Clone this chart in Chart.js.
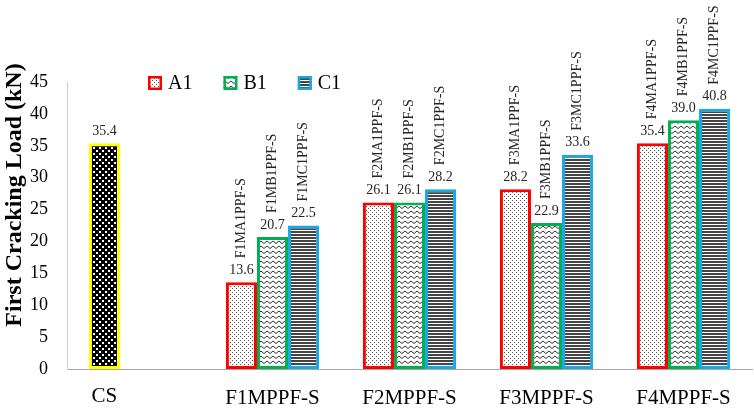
<!DOCTYPE html>
<html>
<head>
<meta charset="utf-8">
<script src="https://cdn.jsdelivr.net/npm/chart.js@4"></script>
<style>
  html, body { margin: 0; padding: 0; background: #fff; }
  #wrap { width: 754px; height: 410px; }
</style>
</head>
<body>
<div id="wrap"><canvas id="chart-crack"></canvas></div>
<script>
const categories = ['CS', 'F1MPPF-S', 'F2MPPF-S', 'F3MPPF-S', 'F4MPPF-S'];
const seriesNames = ['A1', 'B1', 'C1'];
const a1Values = [35.4, 13.6, 26.1, 28.2, 35.4];
const b1Values = [null, 20.7, 26.1, 22.9, 39.0];
const c1Values = [null, 22.5, 28.2, 33.6, 40.8];
const a1Names = ['', 'F1MA1PPF-S', 'F2MA1PPF-S', 'F3MA1PPF-S', 'F4MA1PPF-S'];
const b1Names = ['', 'F1MB1PPF-S', 'F2MB1PPF-S', 'F3MB1PPF-S', 'F4MB1PPF-S'];
const c1Names = ['', 'F1MC1PPF-S', 'F2MC1PPF-S', 'F3MC1PPF-S', 'F4MC1PPF-S'];
const yMin = 0, yMax = 45, yStep = 5;
const yTitle = 'First Cracking Load (kN)';

const FONT = "'Liberation Serif', 'Times New Roman', serif";
const RED = '#ff0000', GREEN = '#00b050', BLUE = '#1aa7e6', YELLOW = '#ffff00';

// ── fill patterns (like the Excel pattern fills) ──────────
function tile(w, h, draw) {
  const c = document.createElement('canvas');
  c.width = w; c.height = h;
  const g = c.getContext('2d');
  draw(g);
  return document.createElement('canvas').getContext('2d').createPattern(c, 'repeat');
}

const dotsFill = tile(4, 4, g => {
  g.fillStyle = '#fff'; g.fillRect(0, 0, 4, 4);
  g.fillStyle = '#555'; g.fillRect(0, 0, 1, 1); g.fillRect(2, 2, 1, 1);
});
const zigzagFill = tile(6, 5, g => {
  g.fillStyle = '#fff'; g.fillRect(0, 0, 6, 5);
  g.strokeStyle = '#333'; g.lineWidth = 1;
  g.beginPath(); g.moveTo(0, 3.5); g.lineTo(3, 1); g.lineTo(6, 3.5); g.stroke();
});
const stripeFill = tile(4, 3, g => {
  g.fillStyle = '#fff'; g.fillRect(0, 0, 4, 3);
  g.fillStyle = '#444'; g.fillRect(0, 0, 4, 2);
});
const csFill = tile(6, 6, g => {
  g.fillStyle = '#000'; g.fillRect(0, 0, 6, 6);
  g.fillStyle = '#fff'; g.fillRect(0, 0, 2, 2); g.fillRect(3, 3, 2, 2);
});

const seriesFill = [dotsFill, zigzagFill, stripeFill];
const seriesBorder = [RED, GREEN, BLUE];
const seriesLabels = [a1Names, b1Names, c1Names];

// ── value + rotated specimen labels ───────────────────────
const barLabels = {
  id: 'barLabels',
  afterDatasetsDraw(chart) {
    const c = chart.ctx;
    chart.data.datasets.forEach((ds, di) => {
      const meta = chart.getDatasetMeta(di);
      meta.data.forEach((bar, i) => {
        const v = ds.data[i];
        if (v === null || v === undefined) return;
        c.save();
        c.fillStyle = '#262626';
        c.font = '14px ' + FONT;
        c.textAlign = 'center';
        c.textBaseline = 'bottom';
        c.fillText(v.toFixed(1), bar.x, bar.y - 5);
        const name = seriesLabels[di][i];
        if (name) {
          c.translate(bar.x, bar.y - 24);
          c.rotate(-Math.PI / 2);
          c.textAlign = 'left';
          c.textBaseline = 'middle';
          c.fillText(name, 0, 0);
        }
        c.restore();
      });
    });
  }
};

// CS has a single bar, its label sits under that bar;
// the y title is centred on the whole figure, not on the plot
const extraText = {
  id: 'extraText',
  afterDraw(chart) {
    const xs = chart.scales.x;
    const bar = chart.getDatasetMeta(0).data[0];
    const c = chart.ctx;
    c.save();
    c.fillStyle = '#000';
    c.font = '21px ' + FONT;
    c.textAlign = 'center';
    c.textBaseline = 'top';
    c.fillText(categories[0], bar.x, xs.top + xs.options.ticks.padding);
    c.translate(15, chart.height / 2 - 10);
    c.rotate(-Math.PI / 2);
    c.font = 'bold 24px ' + FONT;
    c.textBaseline = 'middle';
    c.fillText(yTitle, 0, 0);
    c.restore();
  }
};

// legend drawn inside the plot, top left
const innerLegend = {
  id: 'innerLegend',
  afterDraw(chart) {
    const c = chart.ctx;
    const area = chart.chartArea;
    let x = area.left + 81;
    const y = area.top + 1;
    c.save();
    c.font = '20px ' + FONT;
    c.textBaseline = 'middle';
    seriesNames.forEach((name, i) => {
      c.fillStyle = seriesFill[i];
      c.fillRect(x, y - 7, 14, 14);
      c.strokeStyle = seriesBorder[i];
      c.lineWidth = 2.5;
      c.strokeRect(x + 1.25, y - 5.75, 11.5, 11.5);
      c.fillStyle = '#000';
      c.fillText(name, x + 20, y + 1);
      x += 20 + c.measureText(name).width + 31;
    });
    c.restore();
  }
};

function makeDataset(name, values, si) {
  return {
    label: name,
    data: values,
    backgroundColor: values.map((v, i) => (si === 0 && i === 0) ? csFill : seriesFill[si]),
    borderColor: values.map((v, i) => (si === 0 && i === 0) ? YELLOW : seriesBorder[si]),
    borderWidth: 3,
    borderSkipped: false,
    categoryPercentage: 0.68,
    barPercentage: 1.0,
  };
}

new Chart(document.getElementById('chart-crack').getContext('2d'), {
  type: 'bar',
  data: {
    labels: categories,
    datasets: [
      makeDataset(seriesNames[0], a1Values, 0),
      makeDataset(seriesNames[1], b1Values, 1),
      makeDataset(seriesNames[2], c1Values, 2),
    ],
  },
  options: {
    responsive: true,
    maintainAspectRatio: false,
    animation: false,
    layout: { padding: { top: 82, left: 0, right: 2, bottom: 0 } },
    plugins: {
      legend: { display: false },
      tooltip: { enabled: false },
    },
    scales: {
      x: {
        grid: { display: false, drawTicks: false },
        border: { display: true, color: '#a6a6a6', width: 1 },
        ticks: {
          color: '#000',
          font: { family: FONT, size: 21 },
          padding: 17,
          maxRotation: 0,
          callback: (v, i) => i === 0 ? '' : categories[i],
        },
        afterFit: s => { s.height = 41; },
      },
      y: {
        min: yMin,
        max: yMax,
        grid: { display: false, drawTicks: false },
        border: { display: true, color: '#d0d0d0', width: 1 },
        ticks: {
          stepSize: yStep,
          color: '#000',
          font: { family: FONT, size: 18 },
          padding: 19,
        },
        afterFit: s => { s.width = 67; },
      },
    },
  },
  plugins: [barLabels, extraText, innerLegend],
});
</script>
</body>
</html>
